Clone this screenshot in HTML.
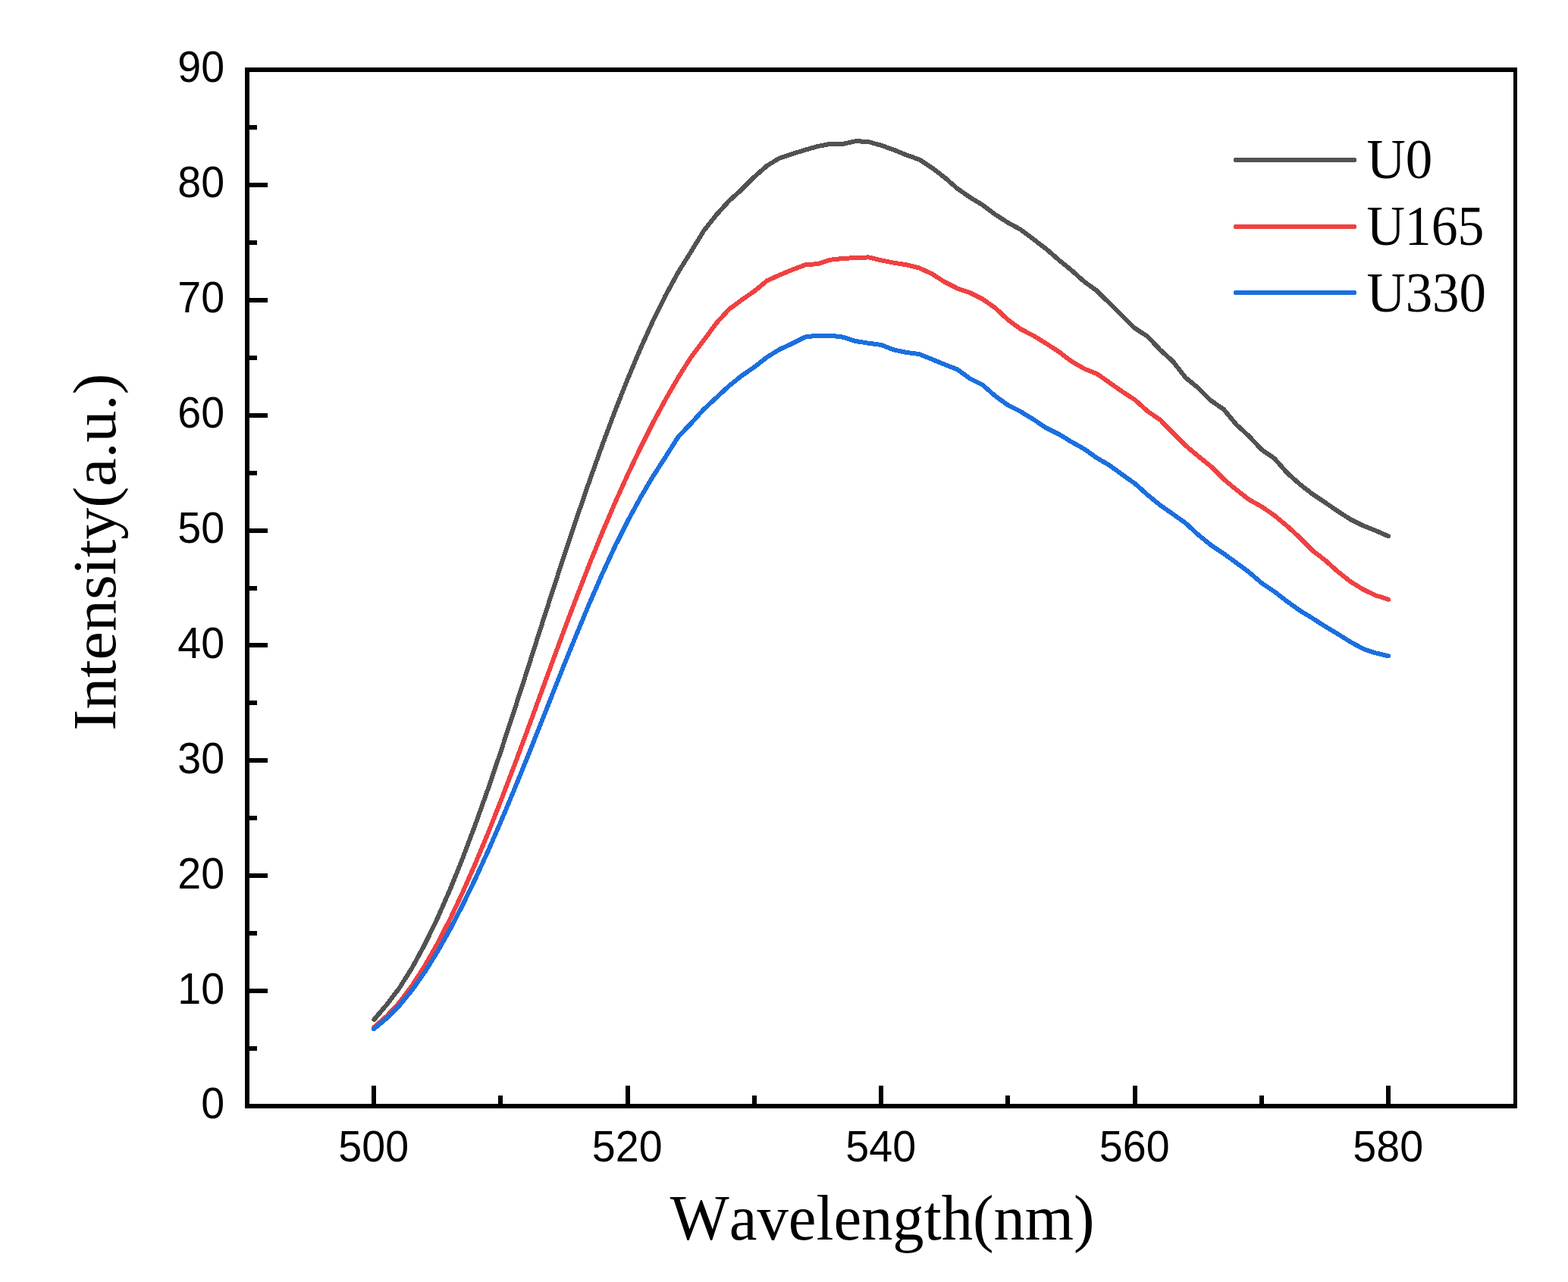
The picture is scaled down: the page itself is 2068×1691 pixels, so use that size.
<!DOCTYPE html>
<html><head><meta charset="utf-8"><title>Intensity vs Wavelength</title>
<style>
html,body{margin:0;padding:0;background:#fff;}
body{width:2068px;height:1691px;overflow:hidden;}
svg{display:block;}
text{font-kerning:none;letter-spacing:0;fill:#000;}
.tk{font-family:"Liberation Sans",Arial,sans-serif;font-size:58.2px;}
.ax{font-family:"Liberation Serif","Times New Roman",serif;}
.lg{font-family:"Liberation Serif","Times New Roman",serif;font-size:74.2px;}
</style></head><body>
<svg width="2068" height="1691" viewBox="0 0 2068 1691">
<rect width="2068" height="1691" fill="#fff"/>
<rect x="323" y="89" width="6" height="1373" fill="#000"/>
<rect x="1996" y="89" width="5" height="1373" fill="#000"/>
<rect x="323" y="89" width="1678" height="6" fill="#000"/>
<rect x="323" y="1456" width="1678" height="6" fill="#000"/>
<rect x="329" y="1380" width="10" height="6" fill="#000"/>
<rect x="329" y="1304" width="24" height="6" fill="#000"/>
<rect x="329" y="1228" width="10" height="6" fill="#000"/>
<rect x="329" y="1152" width="24" height="6" fill="#000"/>
<rect x="329" y="1076" width="10" height="6" fill="#000"/>
<rect x="329" y="1000" width="24" height="6" fill="#000"/>
<rect x="329" y="924" width="10" height="6" fill="#000"/>
<rect x="329" y="848" width="24" height="6" fill="#000"/>
<rect x="329" y="773" width="10" height="6" fill="#000"/>
<rect x="329" y="697" width="24" height="6" fill="#000"/>
<rect x="329" y="621" width="10" height="6" fill="#000"/>
<rect x="329" y="545" width="24" height="6" fill="#000"/>
<rect x="329" y="469" width="10" height="6" fill="#000"/>
<rect x="329" y="393" width="24" height="6" fill="#000"/>
<rect x="329" y="317" width="10" height="6" fill="#000"/>
<rect x="329" y="241" width="24" height="6" fill="#000"/>
<rect x="329" y="165" width="10" height="6" fill="#000"/>
<rect x="490" y="1432" width="6" height="24" fill="#000"/>
<rect x="657" y="1445" width="6" height="11" fill="#000"/>
<rect x="825" y="1432" width="6" height="24" fill="#000"/>
<rect x="992" y="1445" width="6" height="11" fill="#000"/>
<rect x="1159" y="1432" width="6" height="24" fill="#000"/>
<rect x="1326" y="1445" width="6" height="11" fill="#000"/>
<rect x="1494" y="1432" width="6" height="24" fill="#000"/>
<rect x="1661" y="1445" width="6" height="11" fill="#000"/>
<rect x="1828" y="1432" width="6" height="24" fill="#000"/>
<path d="M493.2,1345.0 L510.0,1325.3 L526.7,1303.3 L543.4,1276.7 L560.1,1246.0 L576.9,1211.4 L593.6,1173.2 L610.3,1131.8 L627.0,1087.4 L643.8,1040.4 L660.5,991.2 L677.2,940.3 L694.0,888.4 L710.7,836.0 L727.4,783.9 L744.1,732.6 L760.9,682.5 L777.6,633.9 L794.3,587.2 L811.0,542.4 L827.8,500.0 L844.5,460.2 L861.2,423.3 L877.9,389.4 L894.6,358.9 L911.4,332.0 L928.1,304.6 L944.8,283.4 L961.5,265.0 L978.3,249.9 L995.0,233.2 L1011.7,218.5 L1028.5,208.4 L1045.2,203.0 L1061.9,197.7 L1078.6,193.0 L1095.3,189.8 L1112.1,189.8 L1128.8,186.1 L1145.5,187.1 L1162.2,191.8 L1179.0,197.7 L1195.7,204.6 L1212.4,210.4 L1229.2,221.4 L1245.9,234.1 L1262.6,248.7 L1279.3,260.3 L1296.0,270.4 L1312.8,283.0 L1329.5,293.8 L1346.2,302.9 L1363.0,315.6 L1379.7,328.2 L1396.4,342.9 L1413.1,356.4 L1429.8,371.4 L1446.6,383.5 L1463.3,400.0 L1480.0,416.7 L1496.8,433.0 L1513.5,443.8 L1530.2,461.5 L1546.9,476.7 L1563.7,498.2 L1580.4,511.7 L1597.1,528.4 L1613.8,539.9 L1630.5,559.9 L1647.3,575.3 L1664.0,593.2 L1680.7,604.6 L1697.5,623.7 L1714.2,638.6 L1730.9,651.7 L1747.6,662.8 L1764.3,674.2 L1781.1,685.1 L1797.8,693.3 L1814.5,700.0 L1831.2,707.3" fill="none" stroke="#525252" stroke-width="6" stroke-linejoin="round" stroke-linecap="round" shape-rendering="crispEdges"/>
<path d="M493.2,1355.0 L510.0,1340.4 L526.7,1322.4 L543.4,1300.2 L560.1,1274.2 L576.9,1244.8 L593.6,1212.3 L610.3,1176.8 L627.0,1138.8 L643.8,1098.6 L660.5,1056.4 L677.2,1012.6 L694.0,967.6 L710.7,921.9 L727.4,876.2 L744.1,830.8 L760.9,786.5 L777.6,743.6 L794.3,702.6 L811.0,663.4 L827.8,626.2 L844.5,590.9 L861.2,557.7 L877.9,526.7 L894.6,497.7 L911.4,471.2 L928.1,449.0 L944.8,426.2 L961.5,408.0 L978.3,395.5 L995.0,384.0 L1011.7,370.2 L1028.5,362.6 L1045.2,355.7 L1061.9,349.4 L1078.6,348.1 L1095.3,342.7 L1112.1,340.9 L1128.8,340.1 L1145.5,339.4 L1162.2,343.3 L1179.0,346.7 L1195.7,349.3 L1212.4,353.5 L1229.2,361.2 L1245.9,372.0 L1262.6,380.4 L1279.3,386.1 L1296.0,394.6 L1312.8,406.3 L1329.5,422.0 L1346.2,434.1 L1363.0,442.8 L1379.7,453.0 L1396.4,463.9 L1413.1,476.5 L1429.8,486.3 L1446.6,493.0 L1463.3,504.7 L1480.0,516.5 L1496.8,527.3 L1513.5,542.4 L1530.2,553.9 L1546.9,571.0 L1563.7,587.7 L1580.4,601.8 L1597.1,615.3 L1613.8,632.0 L1630.5,645.9 L1647.3,659.0 L1664.0,668.3 L1680.7,679.8 L1697.5,693.8 L1714.2,709.1 L1730.9,726.1 L1747.6,738.9 L1764.3,753.9 L1781.1,767.1 L1797.8,777.5 L1814.5,785.4 L1831.2,790.7" fill="none" stroke="#EF4142" stroke-width="6" stroke-linejoin="round" stroke-linecap="round" shape-rendering="crispEdges"/>
<path d="M493.2,1357.2 L510.0,1343.1 L526.7,1326.3 L543.4,1306.0 L560.1,1282.3 L576.9,1255.4 L593.6,1225.8 L610.3,1193.5 L627.0,1159.0 L643.8,1122.3 L660.5,1083.9 L677.2,1044.0 L694.0,1002.8 L710.7,960.9 L727.4,918.7 L744.1,876.6 L760.9,835.4 L777.6,795.3 L794.3,757.0 L811.0,720.8 L827.8,687.4 L844.5,656.6 L861.2,628.3 L877.9,602.5 L894.6,576.0 L911.4,558.5 L928.1,540.0 L944.8,524.5 L961.5,509.0 L978.3,495.5 L995.0,484.1 L1011.7,471.0 L1028.5,460.7 L1045.2,453.0 L1061.9,444.5 L1078.6,442.6 L1095.3,442.6 L1112.1,444.7 L1128.8,450.1 L1145.5,452.7 L1162.2,454.9 L1179.0,461.5 L1195.7,465.0 L1212.4,467.1 L1229.2,473.9 L1245.9,480.8 L1262.6,487.3 L1279.3,499.4 L1296.0,507.8 L1312.8,522.5 L1329.5,534.4 L1346.2,543.0 L1363.0,553.2 L1379.7,564.4 L1396.4,572.6 L1413.1,582.8 L1429.8,592.1 L1446.6,604.1 L1463.3,613.7 L1480.0,626.0 L1496.8,637.8 L1513.5,652.8 L1530.2,666.4 L1546.9,678.1 L1563.7,690.0 L1580.4,705.5 L1597.1,719.0 L1613.8,730.2 L1630.5,742.3 L1647.3,754.7 L1664.0,769.1 L1680.7,780.3 L1697.5,793.3 L1714.2,805.2 L1730.9,815.4 L1747.6,826.2 L1764.3,836.2 L1781.1,846.7 L1797.8,855.8 L1814.5,861.4 L1831.2,865.3" fill="none" stroke="#1B6FDE" stroke-width="6" stroke-linejoin="round" stroke-linecap="round" shape-rendering="crispEdges"/>
<line x1="1630" y1="211" x2="1786" y2="211" stroke="#525252" stroke-width="6" stroke-linecap="round" shape-rendering="crispEdges"/>
<line x1="1630" y1="299" x2="1786" y2="299" stroke="#EF4142" stroke-width="6" stroke-linecap="round" shape-rendering="crispEdges"/>
<line x1="1630" y1="386" x2="1786" y2="386" stroke="#1B6FDE" stroke-width="6" stroke-linecap="round" shape-rendering="crispEdges"/>
<text class="tk" transform="translate(265.26 1475.43) scale(0.9550 1)">0</text>
<text class="tk" transform="translate(234.35 1323.54) scale(0.9550 1)">10</text>
<text class="tk" transform="translate(234.35 1171.65) scale(0.9550 1)">20</text>
<text class="tk" transform="translate(234.35 1019.76) scale(0.9550 1)">30</text>
<text class="tk" transform="translate(234.35 867.88) scale(0.9550 1)">40</text>
<text class="tk" transform="translate(234.35 715.99) scale(0.9550 1)">50</text>
<text class="tk" transform="translate(234.35 564.10) scale(0.9550 1)">60</text>
<text class="tk" transform="translate(234.35 412.21) scale(0.9550 1)">70</text>
<text class="tk" transform="translate(234.35 260.32) scale(0.9550 1)">80</text>
<text class="tk" transform="translate(234.35 108.43) scale(0.9550 1)">90</text>
<text class="tk" transform="translate(446.36 1532.33) scale(0.9550 1)">500</text>
<text class="tk" transform="translate(780.86 1532.33) scale(0.9550 1)">520</text>
<text class="tk" transform="translate(1115.36 1532.33) scale(0.9550 1)">540</text>
<text class="tk" transform="translate(1449.86 1532.33) scale(0.9550 1)">560</text>
<text class="tk" transform="translate(1784.36 1532.33) scale(0.9550 1)">580</text>
<text class="ax" style="font-size:84.21px" transform="translate(883.82 1634.63) scale(0.9813 1)">Wavelength(nm)</text>
<text class="ax" style="font-size:81.35px" transform="translate(152.34 963.74) rotate(-90) scale(1.0331 1)">Intensity(a.u.)</text>
<text class="lg" transform="translate(1802.41 235.30) scale(0.9560 1)">U0</text>
<text class="lg" transform="translate(1802.44 323.20) scale(0.9400 1)">U165</text>
<text class="lg" transform="translate(1802.41 411.10) scale(0.9560 1)">U330</text>
</svg>
</body></html>
